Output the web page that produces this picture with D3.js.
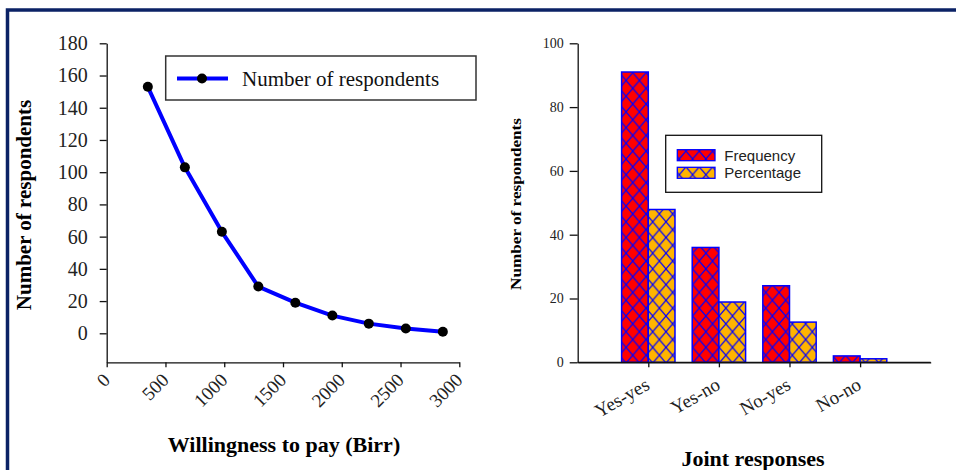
<!DOCTYPE html>
<html>
<head>
<meta charset="utf-8">
<script src="https://cdn.jsdelivr.net/npm/d3@7"></script>
<style>
  body { margin: 0; background: #fff; }
  svg { display: block; }
</style>
</head>
<body>
<script>
// left panel: willingness to pay curve
const wtpBids = [350, 665, 980, 1290, 1605, 1920, 2230, 2545, 2860];
const respondents = [153, 103, 63, 29, 19, 11, 6, 3, 1];
const wtpTicks = [0, 500, 1000, 1500, 2000, 2500, 3000];
const countTicks = [0, 20, 40, 60, 80, 100, 120, 140, 160, 180];

// right panel: joint responses
const jointCats = ["Yes-yes", "Yes-no", "No-yes", "No-no"];
const frequency = [91, 36, 24, 2];
const percentage = [47.9, 18.9, 12.6, 1.1];
const jointTicks = [0, 20, 40, 60, 80, 100];
const seriesNames = ["Frequency", "Percentage"];

const width = 956, height = 470;
const navy = "#0b2265";
const serif = "'Liberation Serif', 'Times New Roman', serif";
const sans = "'Liberation Sans', Arial, sans-serif";

const svg = d3.select("body").append("svg")
    .attr("width", width)
    .attr("height", height);

// frame
svg.append("rect").attr("x", 7.5).attr("y", 10).attr("width", 960).attr("height", 470)
    .attr("fill", "none").attr("stroke", navy).attr("stroke-width", 3.5);

// hatch patterns (cell a bit taller than wide, like the source)
const defs = svg.append("defs");
const fills = { Frequency: "#ff0000", Percentage: "#ffb400" };
const hw = 13.3, hh = 15.7;
seriesNames.forEach(name => {
  const p = defs.append("pattern")
      .attr("id", "hatch-" + name)
      .attr("patternUnits", "userSpaceOnUse")
      .attr("x", 1).attr("y", 2)
      .attr("width", hw).attr("height", hh);
  p.append("rect").attr("width", hw).attr("height", hh).attr("fill", fills[name]);
  p.append("path")
      .attr("d", `M0,0L${hw},${hh}M${hw},0L0,${hh}`)
      .attr("stroke", "#0000ff").attr("stroke-width", 1.2);
});

function styleAxis(g, size) {
  g.selectAll(".domain").attr("stroke", "#111").attr("stroke-width", 1.3);
  g.selectAll(".tick line").attr("stroke", "#111").attr("stroke-width", 1.3);
  g.selectAll(".tick text").attr("fill", "#222").attr("font-family", serif).attr("font-size", size);
}

// ---------- left chart ----------
const x1 = d3.scaleLinear().domain([0, 3000]).range([106.7, 459.3]);
const y1 = d3.scaleLinear().domain([-18, 180]).range([362.3, 43.3]);

const left = svg.append("g");

const gx1 = left.append("g")
    .attr("transform", `translate(0,${y1(-18)})`)
    .call(d3.axisBottom(x1).tickValues(wtpTicks).tickSize(5).tickSizeOuter(0).tickFormat(d3.format("d")));
gx1.selectAll(".tick text")
    .attr("y", null).attr("dy", null)
    .attr("text-anchor", "end")
    .attr("transform", "translate(4,19) rotate(-45)");
styleAxis(gx1, 19);

const gy1 = left.append("g")
    .attr("transform", `translate(${x1(0)},0)`)
    .call(d3.axisLeft(y1).tickValues(countTicks).tickSize(7).tickPadding(12).tickSizeOuter(0));
styleAxis(gy1, 20);

const pts = wtpBids.map((b, i) => [b, respondents[i]]);
left.append("path")
    .datum(pts)
    .attr("fill", "none")
    .attr("stroke", "#0000ff")
    .attr("stroke-width", 4)
    .attr("stroke-linejoin", "round")
    .attr("d", d3.line().x(d => x1(d[0])).y(d => y1(d[1])));

left.append("g").selectAll("circle")
    .data(pts)
    .join("circle")
    .attr("cx", d => x1(d[0]))
    .attr("cy", d => y1(d[1]))
    .attr("r", 5)
    .attr("fill", "#000");

left.append("text")
    .attr("transform", "translate(31,205) rotate(-90)")
    .attr("text-anchor", "middle")
    .attr("font-family", serif).attr("font-weight", "bold").attr("font-size", 21)
    .text("Number of respondents");

left.append("text")
    .attr("x", 284).attr("y", 452)
    .attr("text-anchor", "middle")
    .attr("font-family", serif).attr("font-weight", "bold").attr("font-size", 22)
    .text("Willingness to pay (Birr)");

// legend
const lg1 = left.append("g");
lg1.append("rect").attr("x", 165.7).attr("y", 56).attr("width", 310.3).attr("height", 44)
    .attr("fill", "#fff").attr("stroke", "#333").attr("stroke-width", 1.5);
lg1.append("line").attr("x1", 177).attr("x2", 228).attr("y1", 78.5).attr("y2", 78.5)
    .attr("stroke", "#0000ff").attr("stroke-width", 4);
lg1.append("circle").attr("cx", 202).attr("cy", 78.5).attr("r", 5).attr("fill", "#000");
lg1.append("text").attr("x", 242).attr("y", 85.5)
    .attr("font-family", serif).attr("font-size", 21).attr("fill", "#111")
    .text("Number of respondents");

// ---------- right chart ----------
const x2 = d3.scalePoint().domain(jointCats).range([577.7, 930.7]).padding(1);
const y2 = d3.scaleLinear().domain([0, 100]).range([362.3, 43.3]);
const bw = x2.step() * 0.378;

const right = svg.append("g");

const gx2 = right.append("g")
    .attr("transform", `translate(0,${y2(0)})`)
    .call(d3.axisBottom(x2).tickSize(5).tickSizeOuter(0));
gx2.selectAll(".tick text")
    .attr("y", null).attr("dy", null)
    .attr("text-anchor", "end")
    .attr("transform", "translate(2,26) rotate(-30)");
styleAxis(gx2, 19);

const gy2 = right.append("g")
    .attr("transform", `translate(${x2.range()[0]},0)`)
    .call(d3.axisLeft(y2).tickValues(jointTicks).tickSize(8).tickPadding(6).tickSizeOuter(0));
styleAxis(gy2, 14);

const barData = jointCats.flatMap((c, i) => [
  { cat: c, series: "Frequency", value: frequency[i], off: -1 },
  { cat: c, series: "Percentage", value: percentage[i], off: 0 }
]);

right.append("g").selectAll("rect")
    .data(barData)
    .join("rect")
    .attr("x", d => x2(d.cat) + d.off * bw)
    .attr("y", d => y2(d.value))
    .attr("width", bw)
    .attr("height", d => y2(0) - y2(d.value))
    .attr("fill", d => `url(#hatch-${d.series})`)
    .attr("stroke", "#0000ff")
    .attr("stroke-width", 1.5);

// redraw baseline over bars
right.append("line")
    .attr("x1", x2.range()[0]).attr("x2", x2.range()[1])
    .attr("y1", y2(0)).attr("y2", y2(0))
    .attr("stroke", "#111").attr("stroke-width", 1.3);

right.append("text")
    .attr("transform", "translate(521,204) rotate(-90)")
    .attr("text-anchor", "middle")
    .attr("font-family", serif).attr("font-weight", "bold").attr("font-size", 15)
    .attr("textLength", 172).attr("lengthAdjust", "spacingAndGlyphs")
    .text("Number of respondents");

right.append("text")
    .attr("x", 753).attr("y", 466)
    .attr("text-anchor", "middle")
    .attr("font-family", serif).attr("font-weight", "bold").attr("font-size", 22)
    .text("Joint responses");

const lg2 = right.append("g");
lg2.append("rect").attr("x", 665.7).attr("y", 135.3).attr("width", 156).attr("height", 57)
    .attr("fill", "#fff").attr("stroke", "#111").attr("stroke-width", 1.3);
seriesNames.forEach((name, i) => {
  const yy = 149.7 + i * 17.6;
  lg2.append("rect").attr("x", 677.3).attr("y", yy).attr("width", 37.7).attr("height", 11)
      .attr("fill", `url(#hatch-${name})`).attr("stroke", "#0000ff").attr("stroke-width", 1.3);
  lg2.append("text").attr("x", 724.3).attr("y", yy + 11)
      .attr("font-family", sans).attr("font-size", 15).attr("fill", "#222")
      .text(name);
});
</script>
</body>
</html>
